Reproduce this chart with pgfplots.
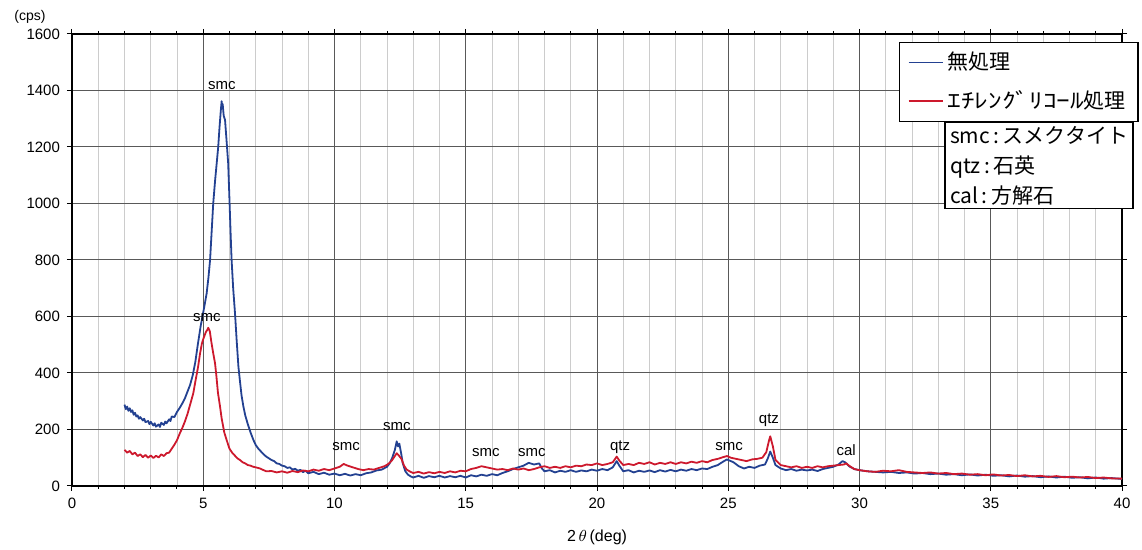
\documentclass[border=0pt]{standalone}
\usepackage{pgfplots}
\pgfplotsset{compat=1.18}
\usepackage{fontspec}
\usepackage{graphicx}
\setmainfont{Liberation Sans}
\newfontfamily\jp{Noto Sans CJK JP}
\definecolor{sblue}{RGB}{35,65,145}
\definecolor{sred}{RGB}{205,25,45}
\pgfplotstableread{
x y
2.0 288
2.05 272
2.1 281
2.15 266
2.2 275
2.25 262
2.3 268
2.35 252
2.4 259
2.45 246
2.5 250
2.55 238
2.6 244
2.7 232
2.75 238
2.8 226
2.9 230
2.95 219
3.0 227
3.1 214
3.15 222
3.2 210
3.3 218
3.35 209
3.4 224
3.5 216
3.55 228
3.6 222
3.7 236
3.75 230
3.8 246
3.9 244
4.0 262
4.1 276
4.2 292
4.3 310
4.4 334
4.5 358
4.6 392
4.7 440
4.8 505
4.9 565
5.0 615
5.05 640
5.13 682
5.2 740
5.26 800
5.32 900
5.38 1000
5.45 1080
5.5 1130
5.57 1200
5.62 1270
5.67 1330
5.7 1362
5.72 1340
5.74 1352
5.78 1310
5.83 1296
5.89 1220
5.95 1142
6.0 1010
6.04 900
6.08 800
6.14 700
6.21 611
6.27 520
6.34 422
6.4 370
6.46 320
6.53 281
6.6 250
6.7 218
6.8 190
6.91 163
7.0 145
7.1 132
7.2 122
7.3 112
7.4 104
7.5 98
7.6 92
7.7 88
7.8 80
7.9 78
8.0 72
8.1 70
8.2 64
8.3 66
8.4 58
8.5 61
8.6 54
8.7 57
8.8 49
8.9 54
9.0 45
9.2 50
9.4 42
9.6 47
9.8 40
10.0 44
10.2 38
10.4 43
10.6 37
10.8 42
11.0 38
11.2 45
11.4 48
11.6 55
11.8 58
12.0 68
12.1 80
12.2 100
12.3 128
12.37 158
12.42 140
12.47 150
12.55 110
12.6 80
12.7 52
12.8 40
12.9 34
13.0 30
13.2 36
13.4 29
13.6 35
13.8 31
14.0 36
14.2 30
14.4 35
14.6 31
14.8 36
15.0 30
15.2 38
15.4 34
15.6 40
15.8 36
16.0 42
16.2 38
16.4 46
16.6 52
16.8 60
17.0 66
17.2 72
17.4 82
17.6 76
17.8 80
17.9 62
18.0 52
18.2 56
18.4 48
18.6 54
18.8 50
19.0 56
19.2 50
19.4 55
19.6 52
19.8 58
20.0 54
20.2 60
20.4 56
20.6 66
20.75 88
20.85 72
21.0 52
21.2 56
21.4 48
21.6 54
21.8 50
22.0 55
22.2 49
22.4 56
22.6 51
22.8 57
23.0 52
23.2 58
23.4 54
23.6 60
23.8 56
24.0 62
24.2 60
24.4 68
24.6 74
24.8 86
24.95 94
25.1 88
25.2 84
25.4 70
25.6 62
25.8 68
26.0 64
26.2 72
26.4 76
26.5 96
26.6 122
26.7 100
26.8 74
27.0 62
27.2 56
27.4 60
27.6 54
27.8 58
28.0 55
28.2 58
28.4 53
28.6 60
28.8 64
29.0 68
29.2 76
29.35 88
29.45 84
29.6 70
29.8 60
30.0 56
30.3 52
30.6 50
30.9 48
31.2 50
31.5 46
31.8 48
32.1 44
32.4 46
32.7 42
33.0 44
33.3 40
33.6 42
33.9 38
34.2 41
34.5 37
34.8 40
35.1 36
35.4 38
35.7 34
36.0 37
36.3 33
36.6 35
36.9 31
37.2 34
37.5 30
37.8 33
38.1 29
38.4 31
38.7 27
39.0 30
39.3 26
39.6 28
40.0 25
}\untreated
\pgfplotstableread{
x y
2.0 128
2.1 118
2.2 124
2.3 112
2.4 118
2.5 106
2.6 112
2.7 102
2.8 110
2.9 100
3.0 108
3.1 99
3.2 107
3.3 101
3.4 112
3.5 106
3.6 116
3.7 118
3.8 132
3.9 146
4.0 162
4.11 187
4.2 205
4.3 228
4.4 255
4.5 288
4.62 328
4.7 370
4.8 420
4.88 470
4.95 505
5.0 520
5.1 545
5.15 552
5.19 560
5.25 548
5.3 515
5.38 470
5.45 434
5.5 390
5.56 330
5.64 281
5.7 240
5.8 190
5.89 163
6.0 132
6.1 118
6.2 108
6.3 98
6.4 92
6.5 84
6.6 80
6.7 74
6.8 72
6.9 68
7.0 66
7.16 62
7.3 56
7.4 52
7.6 53
7.8 48
8.0 52
8.2 47
8.4 53
8.6 49
8.8 55
9.0 52
9.2 58
9.4 54
9.6 60
9.8 56
10.0 62
10.2 68
10.35 78
10.5 72
10.7 66
10.9 60
11.1 56
11.3 60
11.5 58
11.7 64
11.9 70
12.0 75
12.1 82
12.2 92
12.3 106
12.37 116
12.45 108
12.55 96
12.65 72
12.75 58
12.9 50
13.0 46
13.2 50
13.4 44
13.6 49
13.8 45
14.0 50
14.2 46
14.4 52
14.6 48
14.8 54
15.0 52
15.2 60
15.4 64
15.6 70
15.8 66
16.0 62
16.2 58
16.4 60
16.6 56
16.8 62
17.0 58
17.2 62
17.4 56
17.6 60
17.8 66
18.0 70
18.2 64
18.4 68
18.6 64
18.8 70
19.0 66
19.2 72
19.4 70
19.6 76
19.8 74
20.0 80
20.2 74
20.4 78
20.6 84
20.75 104
20.85 90
21.0 74
21.2 78
21.4 74
21.6 82
21.8 78
22.0 84
22.2 76
22.4 82
22.6 78
22.8 84
23.0 78
23.2 84
23.4 80
23.6 86
23.8 82
24.0 88
24.2 84
24.4 92
24.6 96
24.8 102
24.95 106
25.1 100
25.3 96
25.5 92
25.7 88
25.9 94
26.1 96
26.3 100
26.45 120
26.55 160
26.6 176
26.7 140
26.8 92
27.0 74
27.2 70
27.4 66
27.6 70
27.8 64
28.0 68
28.2 64
28.4 70
28.6 66
28.8 70
29.0 72
29.2 74
29.4 76
29.5 80
29.6 72
29.8 60
30.0 56
30.3 52
30.6 50
30.9 54
31.2 52
31.5 56
31.8 50
32.1 48
32.4 46
32.7 48
33.0 44
33.3 46
33.6 42
33.9 44
34.2 40
34.5 42
34.8 38
35.1 41
35.4 37
35.7 39
36.0 35
36.3 38
36.6 34
36.9 36
37.2 32
37.5 35
37.8 31
38.1 33
38.4 30
38.7 32
39.0 28
39.3 30
39.6 27
40.0 26
}\glycol
\begin{document}
\begin{tikzpicture}
\path[use as bounding box] (-36pt,-32pt) rectangle (535pt,243pt);
\begin{axis}[
  at={(0,0)}, anchor=south west,
  scale only axis, width=525pt, height=226pt,
  xmin=0, xmax=40, ymin=0, ymax=1600,
  xtick={0,5,...,40}, minor xtick={1,2,...,39},
  ytick={0,200,...,1600},
  grid=both,
  major grid style={black!65, line width=0.5pt},
  minor grid style={black!20, line width=0.4pt},
  tick align=outside, major tick length=2.5pt, minor tick length=1.5pt,
  tick style={black, line width=0.5pt},
  axis line style={black, line width=0.6pt},
  ticklabel style={font=\fontsize{7.5}{9}\selectfont},
  /pgf/number format/assume math mode=true,
  /pgf/number format/1000 sep={},
  xlabel={2\,$\theta$\,(deg)},
  xlabel style={at={(axis description cs:0.5,0)}, anchor=center, yshift=-25.5pt, font=\fontsize{8}{10}\selectfont},
  legend style={at={(axis description cs:1.0152,0.982)}, anchor=north east,
    draw=black, line width=0.6pt, fill=white, outer sep=0pt,
    font=\jp\fontsize{10.5}{12}\selectfont, row sep=5pt,
    inner xsep=4pt, inner ysep=3pt, cells={anchor=west}},
  legend image code/.code={\draw[#1, line width=0.9pt] (0pt,0pt) -- (17pt,0pt);},
]
\addplot[sblue, line width=0.9pt, line join=round] table[x=x,y=y] {\untreated};
\addlegendentry{無処理}
\addplot[sred, line width=0.9pt, line join=round] table[x=x,y=y] {\glycol};
\addlegendentry{\scalebox{1.3}[1]{ｴﾁﾚﾝｸﾞﾘｺｰﾙ}処理}
\begin{scope}[every node/.style={font=\fontsize{7.5}{9}\selectfont, inner sep=0pt}]
\node at (axis cs:5.71,1419) {smc};
\node at (axis cs:5.14,595) {smc};
\node at (axis cs:10.44,138) {smc};
\node at (axis cs:12.38,212) {smc};
\node at (axis cs:15.77,120) {smc};
\node at (axis cs:17.52,120) {smc};
\node at (axis cs:20.88,138) {qtz};
\node at (axis cs:25.03,138) {smc};
\node at (axis cs:26.55,234) {qtz};
\node at (axis cs:29.49,127) {cal};
\end{scope}
\end{axis}
\node[draw=black, line width=0.6pt, fill=white, align=left, anchor=north east, outer sep=0pt,
  font=\jp\fontsize{10.5}{15}\selectfont, inner xsep=2.5pt, inner ysep=2pt]
  at (530.5pt,182pt) {smc\,:\,スメクタイト\\qtz\,:\,石英\\cal\,:\,方解石};
\node[font=\fontsize{7}{8}\selectfont] at ([shift={(-21pt,8.5pt)}]current axis.north west) {(cps)};
\end{tikzpicture}
\end{document}
